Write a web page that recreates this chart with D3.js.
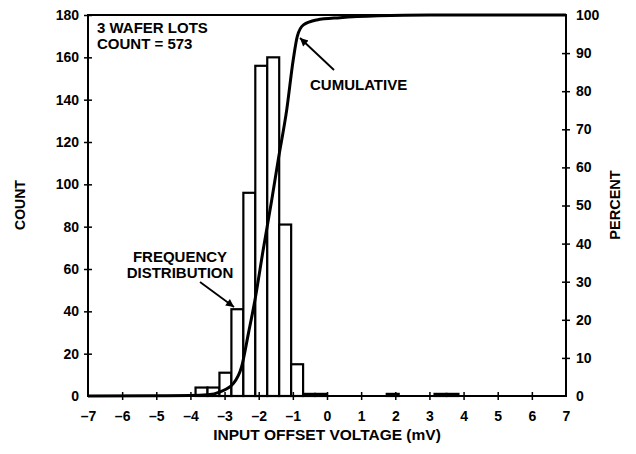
<!DOCTYPE html>
<html>
<head>
<meta charset="utf-8">
<script src="https://cdn.jsdelivr.net/npm/d3@7"></script>
<style>
  body { margin: 0; background: #fff; }
  text { font-family: "Liberation Sans", Arial, sans-serif; font-weight: bold; fill: #000; }
</style>
</head>
<body>
<svg id="chart" width="636" height="454"></svg>
<script>
// histogram bins (mV, left edge) and counts
var binStart = [-3.85, -3.5, -3.15, -2.8, -2.45, -2.1, -1.75, -1.4, -1.05, -0.7, -0.35, 1.75, 3.15, 3.5];
var binCount = [4, 4, 11, 41, 96, 156, 160, 81, 15, 1, 1, 1, 1, 1];
var binWidth = 0.35;

// cumulative curve
var cumX   = [-7, -5, -4, -3.5, -3.13, -2.74, -2.5, -2.3, -2.11, -1.87, -1.62, -1.43, -1.18, -0.99, -0.87, -0.69, -0.3, 0.38, 1.5, 3, 7];
var cumPct = [0, 0.05, 0.1, 0.3, 1.1, 3.3, 7.7, 16.5, 25.2, 38.3, 51.4, 61.9, 75.1, 88.2, 94.4, 97.4, 98.7, 99.3, 99.8, 100, 100];

var xTicks = [-7, -6, -5, -4, -3, -2, -1, 0, 1, 2, 3, 4, 5, 6, 7];
var countTicks = [0, 20, 40, 60, 80, 100, 120, 140, 160, 180];
var pctTicks = [0, 10, 20, 30, 40, 50, 60, 70, 80, 90, 100];

var L = 88, R = 566, T = 15, B = 396;
var svg = d3.select("#chart");

var x = d3.scaleLinear().domain([-7, 7]).range([L, R]);
var yC = d3.scaleLinear().domain([0, 180]).range([B, T]);
var yP = d3.scaleLinear().domain([0, 100]).range([B, T]);

var fmt = function (d) { return d < 0 ? "\u2013" + (-d) : "" + d; };

// bars
svg.append("g").selectAll("rect")
  .data(binStart)
  .enter().append("rect")
  .attr("x", function (d) { return x(d); })
  .attr("width", function (d) { return x(d + binWidth) - x(d); })
  .attr("y", function (d, i) { return yC(binCount[i]); })
  .attr("height", function (d, i) { return B - yC(binCount[i]); })
  .style("fill", "#fff")
  .style("stroke", "#000")
  .style("stroke-width", 2.2);

// cumulative line
var line = d3.line()
  .x(function (d, i) { return x(cumX[i]); })
  .y(function (d) { return yP(d); })
  .curve(d3.curveMonotoneX);
svg.append("path")
  .datum(cumPct)
  .attr("d", line)
  .style("fill", "none")
  .style("stroke", "#000")
  .style("stroke-width", 3);

// frame
svg.append("rect")
  .attr("x", L).attr("y", T)
  .attr("width", R - L).attr("height", B - T)
  .style("fill", "none").style("stroke", "#000").style("stroke-width", 2);

// axes
var gx = svg.append("g").attr("transform", "translate(0," + B + ")")
  .call(d3.axisBottom(x).tickValues(xTicks).tickFormat(fmt).tickSize(4).tickPadding(11));
gx.selectAll("line").attr("y1", -4).attr("y2", 4);

var gl = svg.append("g").attr("transform", "translate(" + L + ",0)")
  .call(d3.axisLeft(yC).tickValues(countTicks).tickSize(4).tickPadding(5));
gl.selectAll("line").attr("x1", 4).attr("x2", -4);

var gr = svg.append("g").attr("transform", "translate(" + R + ",0)")
  .call(d3.axisRight(yP).tickValues(pctTicks).tickSize(4).tickPadding(6));
gr.selectAll("line").attr("x1", -4).attr("x2", 4);

[gx, gl, gr].forEach(function (g) {
  g.select(".domain").remove();
  g.selectAll("line").style("stroke", "#000").style("stroke-width", 1.5);
  g.selectAll("text").style("font-size", "14px").style("font-family", "'Liberation Sans', Arial, sans-serif").style("font-weight", "bold");
});
gl.selectAll(".tick").filter(function (d) { return d === 0; }).select("line").remove();
gr.selectAll(".tick").filter(function (d) { return d === 0 || d === 100; }).select("line").remove();
gx.selectAll(".tick").filter(function (d) { return d === -7 || d === 7; }).select("line").remove();

// axis titles
svg.append("text").attr("x", (L + R) / 2).attr("y", 440)
  .attr("text-anchor", "middle").style("font-size", "15.5px")
  .text("INPUT OFFSET VOLTAGE (mV)");
svg.append("text").attr("transform", "translate(25,205) rotate(-90)")
  .attr("text-anchor", "middle").style("font-size", "14px").text("COUNT");
svg.append("text").attr("transform", "translate(620,205) rotate(-90)")
  .attr("text-anchor", "middle").style("font-size", "14.5px").text("PERCENT");

// annotations
svg.append("text").attr("x", 97).attr("y", 33).style("font-size", "15px").text("3 WAFER LOTS");
svg.append("text").attr("x", 97).attr("y", 49).style("font-size", "15px").text("COUNT = 573");
svg.append("text").attr("x", 310).attr("y", 90).style("font-size", "15px").text("CUMULATIVE");
svg.append("text").attr("x", 180).attr("y", 262).attr("text-anchor", "middle").style("font-size", "15px").text("FREQUENCY");
svg.append("text").attr("x", 180).attr("y", 278).attr("text-anchor", "middle").style("font-size", "15px").text("DISTRIBUTION");

svg.append("defs").append("marker")
  .attr("id", "arr").attr("viewBox", "0 0 10 10")
  .attr("refX", 10).attr("refY", 5)
  .attr("markerWidth", 10).attr("markerHeight", 8)
  .attr("markerUnits", "userSpaceOnUse")
  .attr("orient", "auto")
  .append("path").attr("d", "M0,0 L10,5 L0,10 Z").style("fill", "#000");

svg.append("line").attr("x1", 334).attr("y1", 70).attr("x2", 300).attr("y2", 38)
  .style("stroke", "#000").style("stroke-width", 1.8).attr("marker-end", "url(#arr)");
svg.append("line").attr("x1", 200).attr("y1", 282).attr("x2", 234).attr("y2", 307)
  .style("stroke", "#000").style("stroke-width", 1.8).attr("marker-end", "url(#arr)");
</script>
</body>
</html>
